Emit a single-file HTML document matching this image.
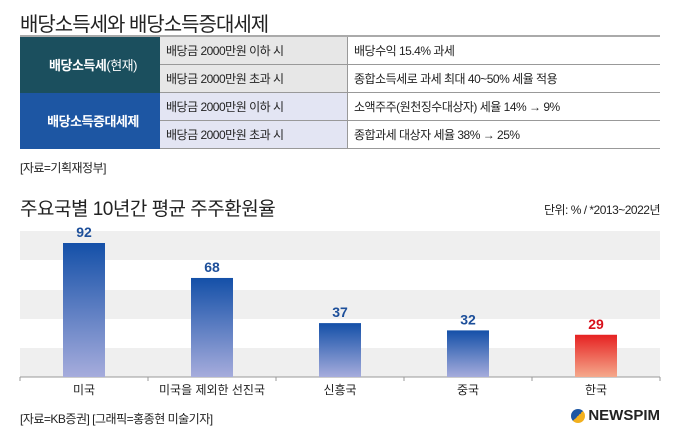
<!DOCTYPE html>
<html><head><meta charset="utf-8"><style>
body{margin:0;width:680px;height:442px;background:#fff;font-family:"Liberation Sans","Noto Sans CJK KR",sans-serif;position:relative;overflow:hidden;color:#222}
.abs{position:absolute}
table{position:absolute;left:20px;top:35px;width:640px;border-collapse:collapse;font-size:12px;letter-spacing:-0.5px}
td{height:27px;padding:0 0 0 6px;border-bottom:1px solid #999}
tr:first-child td{border-top:2px solid #aaa}
.h1{background:#1b4f5e;color:#fff;font-weight:bold;text-align:center;width:134px;font-size:13px;border-bottom:none}
.h2{background:#1d56a3;color:#fff;font-weight:bold;text-align:center;font-size:13px;border-bottom:none}
.g{background:#e7e7e7;border-right:1px solid #999;width:181px}
.l{background:#e3e5f3;border-right:1px solid #999}
</style></head><body>
<div class="abs" style="left:20px;top:8px;font-size:20px;letter-spacing:-1px">배당소득세와 배당소득증대세제</div>
<table>
<tr><td class="h1" rowspan="2">배당소득세<span style="font-weight:normal">(현재)</span></td><td class="g">배당금 2000만원 이하 시</td><td>배당수익 15.4% 과세</td></tr>
<tr><td class="g">배당금 2000만원 초과 시</td><td>종합소득세로 과세 최대 40~50% 세율 적용</td></tr>
<tr><td class="h2" rowspan="2">배당소득증대세제</td><td class="l">배당금 2000만원 이하 시</td><td>소액주주(원천징수대상자) 세율 14% → 9%</td></tr>
<tr><td class="l">배당금 2000만원 초과 시</td><td>종합과세 대상자 세율 38% → 25%</td></tr>
</table>
<div class="abs" style="left:20px;top:159px;font-size:12px;letter-spacing:-0.5px">[자료=기획재정부]</div>
<div class="abs" style="left:20px;top:194px;font-size:19px;letter-spacing:-0.5px">주요국별 10년간 평균 주주환원율</div>
<div class="abs" style="right:20px;top:201px;font-size:12px;letter-spacing:-0.5px">단위: % / *2013~2022년</div>
<svg class="abs" style="left:0;top:0" width="680" height="442" id="chart">
<defs>
<linearGradient id="gb" x1="0" y1="0" x2="0" y2="1"><stop offset="0" stop-color="#1450a8"/><stop offset="1" stop-color="#a6acdc"/></linearGradient>
<linearGradient id="gr" x1="0" y1="0" x2="0" y2="1"><stop offset="0" stop-color="#e62222"/><stop offset="1" stop-color="#f5a98c"/></linearGradient>
</defs>
<rect x="20" y="231" width="640" height="29" fill="#efefef"/>
<rect x="20" y="290" width="640" height="29" fill="#efefef"/>
<rect x="20" y="348" width="640" height="29" fill="#efefef"/>
<g id="bars"></g>
</svg>
<div class="abs" style="left:20px;top:410px;font-size:12px;letter-spacing:-0.5px">[자료=KB증권] [그래픽=홍종현 미술기자]</div>
<div class="abs" style="right:20px;top:407px;font-size:15px;font-weight:bold;color:#222;display:flex;align-items:center;gap:3px"><span style="display:inline-block;width:14px;height:14px;border-radius:50%;background:linear-gradient(135deg,#1d56a3 50%,#f2b01e 50%)"></span>NEWSPIM</div>
<script>
const categories=["미국","미국을 제외한 선진국","신흥국","중국","한국"];
const values=[92,68,37,32,29];
const highlight=[false,false,false,false,true];
const ns="http://www.w3.org/2000/svg";
const g=document.getElementById('bars');
const x0=20,slot=128,base=377,scale=134/92,bw=42;
function xC(i){return x0+slot*i+slot/2;}
function yV(v){return base-v*scale;}
const ax=document.createElementNS(ns,'line');
ax.setAttribute('x1',20);ax.setAttribute('x2',660);ax.setAttribute('y1',base);ax.setAttribute('y2',base);ax.setAttribute('stroke','#999');


g.appendChild(ax);
for(let i=0;i<=5;i++){const t=document.createElementNS(ns,'line');t.setAttribute('x1',x0+slot*i);t.setAttribute('x2',x0+slot*i);t.setAttribute('y1',base);t.setAttribute('y2',base+4);t.setAttribute('stroke','#999');


g.appendChild(t);}
categories.forEach((c,i)=>{
const r=document.createElementNS(ns,'rect');
r.setAttribute('x',xC(i)-bw/2);r.setAttribute('y',yV(values[i]));r.setAttribute('width',bw);r.setAttribute('height',base-yV(values[i]));
r.setAttribute('fill',highlight[i]?'url(#gr)':'url(#gb)');


g.appendChild(r);
const v=document.createElementNS(ns,'text');
v.setAttribute('x',xC(i));v.setAttribute('y',yV(values[i])-6);v.setAttribute('text-anchor','middle');
v.setAttribute('font-size','14');v.setAttribute('font-weight','bold');v.setAttribute('fill',highlight[i]?'#d8111b':'#1d4f9a');
v.textContent=values[i];


g.appendChild(v);
const l=document.createElementNS(ns,'text');
l.setAttribute('x',xC(i));l.setAttribute('y',base+17);l.setAttribute('text-anchor','middle');l.setAttribute('font-size','12');l.setAttribute('fill','#222');
l.textContent=c;


g.appendChild(l);
});
</script>
</body></html>
